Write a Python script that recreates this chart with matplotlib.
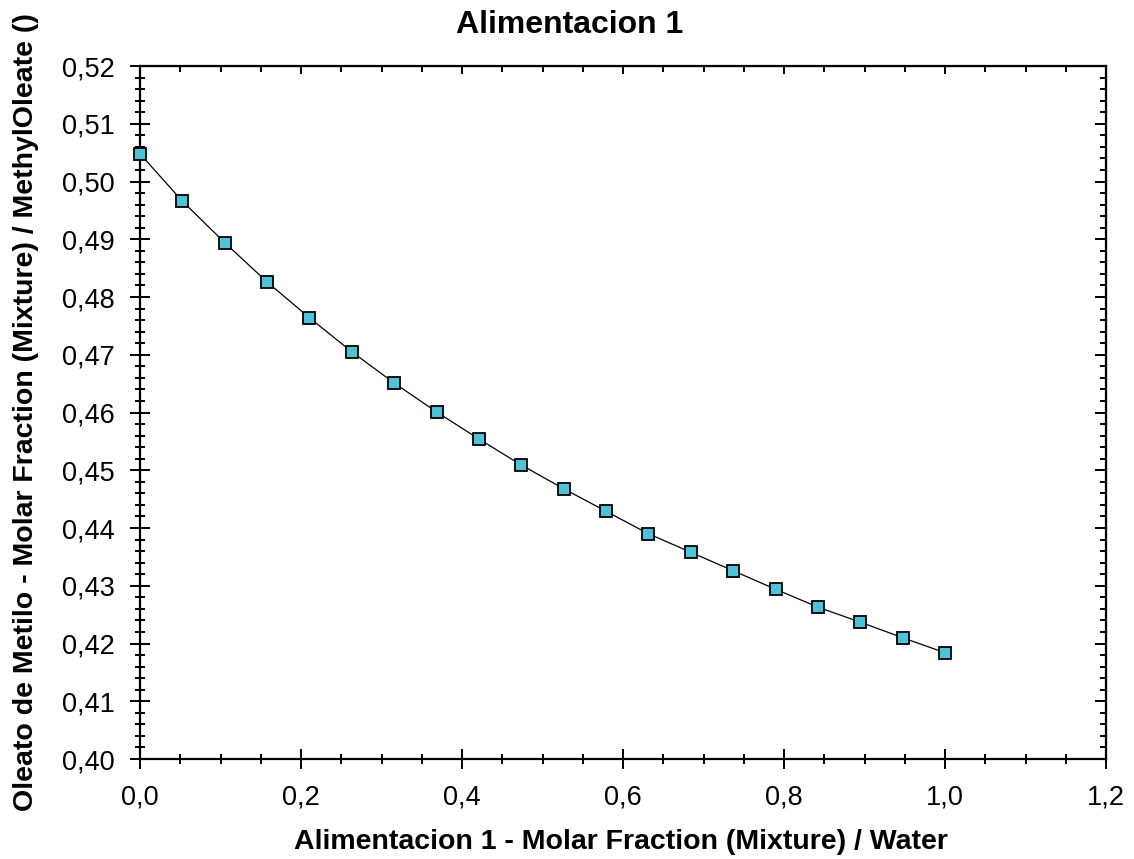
import numpy as np
import matplotlib
matplotlib.use("Agg")
import matplotlib.pyplot as plt
from matplotlib.ticker import MultipleLocator, FuncFormatter

plt.rcParams['font.family'] = ['Liberation Sans', 'DejaVu Sans']

title = "Alimentacion 1"
xlabel = "Alimentacion 1 - Molar Fraction (Mixture) / Water"
ylabel = "Oleato de Metilo - Molar Fraction (Mixture) / MethylOleate ()"

water_frac = [0.0, 0.0526, 0.1053, 0.1579, 0.2105, 0.2632, 0.3158, 0.3684,
              0.4211, 0.4737, 0.5263, 0.5789, 0.6316, 0.6842, 0.7368, 0.7895,
              0.8421, 0.8947, 0.9474, 1.0]
oleate_frac = [0.5048, 0.4966, 0.4894, 0.4826, 0.4764, 0.4705, 0.4651, 0.4601,
               0.4554, 0.4509, 0.4468, 0.4429, 0.4390, 0.4358, 0.4326, 0.4294,
               0.4263, 0.4237, 0.4210, 0.4184]

W, H = 1134, 859
fig = plt.figure(figsize=(W/100, H/100), dpi=100)
ax = fig.add_axes([140/W, 1-759/H, (1106-140)/W, (759-66)/H])

ax.plot(water_frac, oleate_frac, color='black', lw=0.9, marker='s', ms=8,
        mfc='#4EC2D8', mec='black', mew=1.3, clip_on=False, zorder=3)

ax.set_xlim(0, 1.2)
ax.set_ylim(0.40, 0.52)
ax.xaxis.set_major_locator(MultipleLocator(0.2))
ax.xaxis.set_minor_locator(MultipleLocator(0.05))
ax.yaxis.set_major_locator(MultipleLocator(0.01))
ax.yaxis.set_minor_locator(MultipleLocator(0.002))
ax.xaxis.set_major_formatter(FuncFormatter(lambda v, p: f"{v:.1f}".replace('.', ',')))
ax.yaxis.set_major_formatter(FuncFormatter(lambda v, p: f"{v:.2f}".replace('.', ',')))

for s in ax.spines.values():
    s.set_linewidth(1.6)

ax.tick_params(which='both', direction='inout', top=False, right=False,
               labelsize=19.5, width=1.4, pad=11)
ax.tick_params(which='major', length=14.5)
ax.tick_params(which='minor', length=7.5)

axt = ax.secondary_xaxis('top')
axt.xaxis.set_major_locator(MultipleLocator(0.2))
axt.xaxis.set_minor_locator(MultipleLocator(0.05))
axt.tick_params(which='major', direction='in', length=6, width=1.4, labeltop=False)
axt.tick_params(which='minor', direction='in', length=4.5, width=1.4)
axt.set_xticklabels([])
axr = ax.secondary_yaxis('right')
axr.yaxis.set_major_locator(MultipleLocator(0.01))
axr.yaxis.set_minor_locator(MultipleLocator(0.002))
axr.tick_params(which='major', direction='in', length=8, width=1.4, labelright=False)
axr.tick_params(which='minor', direction='in', length=4.5, width=1.4)
axr.set_yticklabels([])

fig.text(570/W, 1-25/H, title, fontsize=23, fontweight='bold', ha='center', va='center')
fig.text(621/W, 1-842/H, xlabel, fontsize=20.5, fontweight='bold', ha='center', va='center')
fig.text(26/W, 1-412/H, ylabel, fontsize=20.5, fontweight='bold', ha='center', va='center',
         rotation=90)

fig.savefig("out.png", dpi=100)
